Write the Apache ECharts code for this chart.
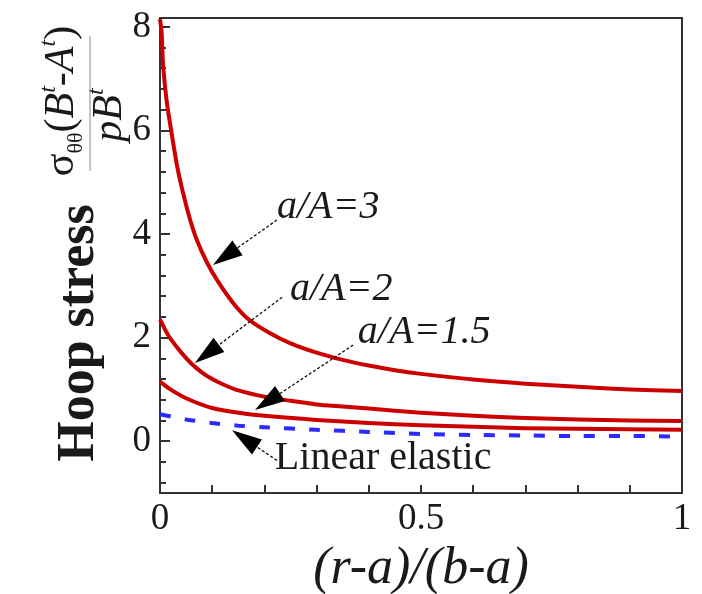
<!DOCTYPE html>
<html>
<head>
<meta charset="utf-8">
<script src="https://cdn.jsdelivr.net/npm/echarts@6/dist/echarts.min.js"></script>
<style>
html,body{margin:0;padding:0;background:#fff;}
#c{width:702px;height:594px;}
</style>
</head>
<body>
<div id="c"></div>
<script>
// ---- data ----
const xA3 = [0, 0.003, 0.006, 0.013, 0.023, 0.033, 0.044, 0.057, 0.07, 0.09, 0.11, 0.14, 0.17, 0.21, 0.25, 0.3, 0.35, 0.4, 0.45, 0.5, 0.6, 0.7, 0.8, 0.9, 1.0];
const yA3 = [8.15, 7.9, 7.25, 6.55, 5.9, 5.3, 4.8, 4.3, 3.9, 3.45, 3.1, 2.67, 2.35, 2.09, 1.89, 1.71, 1.57, 1.46, 1.37, 1.3, 1.19, 1.11, 1.05, 1.0, 0.97];

const xA2 = [0, 0.01, 0.02, 0.04, 0.06, 0.08, 0.1, 0.12, 0.15, 0.2, 0.25, 0.3, 0.35, 0.4, 0.5, 0.6, 0.7, 0.8, 0.9, 1.0];
const yA2 = [2.35, 2.15, 1.98, 1.72, 1.5, 1.33, 1.2, 1.1, 0.98, 0.86, 0.78, 0.71, 0.67, 0.63, 0.55, 0.49, 0.45, 0.42, 0.40, 0.39];

const xA15 = [0, 0.02, 0.05, 0.1, 0.15, 0.2, 0.3, 0.4, 0.5, 0.6, 0.7, 0.8, 0.9, 1.0];
const yA15 = [1.15, 1.0, 0.83, 0.64, 0.55, 0.49, 0.41, 0.35, 0.31, 0.28, 0.25, 0.24, 0.23, 0.22];

const xLin = [0, 0.05, 0.1, 0.15, 0.2, 0.3, 0.4, 0.5, 0.6, 0.7, 0.8, 0.9, 1.0];
const yLin = [0.52, 0.42, 0.35, 0.3, 0.27, 0.22, 0.18, 0.14, 0.12, 0.11, 0.10, 0.10, 0.09];

const xTickValues = [0, 0.1, 0.2, 0.3, 0.4, 0.5, 0.6, 0.7, 0.8, 0.9, 1];
const xLabelValues = [0, 0.5, 1];
const yLabelValues = [0, 2, 4, 6, 8];
const yMinorValues = [-0.8, -0.4, 0.4, 0.8, 1.2, 1.6, 2.4, 2.8, 3.2, 3.6, 4.4, 4.8, 5.2, 5.6, 6.4, 6.8, 7.2, 7.6];

const annLabels = ['a/A=3', 'a/A=2', 'a/A=1.5', 'Linear elastic'];
const annItalic = [true, true, true, false];
const annTip   = [[0.1015, 3.40], [0.067, 1.51], [0.182, 0.60], [0.138, 0.21]];
const annTail  = [[0.224, 4.27], [0.234, 2.78], [0.370, 1.855], [0.224, -0.37]];
const annText  = [[0.224, 4.52], [0.249, 2.92], [0.379, 2.09], [0.22, -0.33]];

// ---- chart ----
const SERIF = "'Liberation Serif','Times New Roman',serif";
const INK = '#1a1a1a';
const RED = '#cc0000';
const BLUE = '#2b2bff';
const pairs = (xs, ys) => xs.map((x, i) => [x, ys[i]]);

const chart = echarts.init(document.getElementById('c'), null, {renderer: 'canvas'});

const redLine = (name, data) => ({
  name, type: 'line', data, showSymbol: false, smooth: 0.25,
  lineStyle: {color: RED, width: 4, join: 'round'}, z: 3, animation: false
});

chart.setOption({
  animation: false,
  backgroundColor: '#fff',
  grid: {left: 160, right: 20, top: 18, bottom: 101, containLabel: false, outerBoundsMode: 'none',
         show: true, borderColor: '#333', borderWidth: 2, backgroundColor: 'transparent'},
  xAxis: {
    type: 'value', min: 0, max: 1,
    axisLine: {show: true, onZero: false, lineStyle: {color: '#333', width: 2}},
    axisTick: {show: true, inside: true, length: 8, customValues: xTickValues, lineStyle: {color: '#333', width: 2}},
    axisLabel: {customValues: xLabelValues, margin: 8, color: INK, fontFamily: SERIF, fontSize: 37,
                formatter: v => String(v)},
    splitLine: {show: false},
    name: '(r-a)/(b-a)', nameLocation: 'middle', nameGap: 38,
    nameTextStyle: {color: INK, fontFamily: SERIF, fontStyle: 'italic', fontSize: 52}
  },
  yAxis: [{
    type: 'value', min: -1, max: 8.17,
    axisLine: {show: true, onZero: false, lineStyle: {color: '#333', width: 2}},
    axisTick: {show: true, inside: true, length: 10, customValues: yLabelValues, lineStyle: {color: '#333', width: 2}},
    axisLabel: {customValues: yLabelValues, margin: 9, color: INK, fontFamily: SERIF, fontSize: 37},
    splitLine: {show: false}
  }, {
    type: 'value', min: -1, max: 8.17, position: 'left',
    axisLine: {show: false, onZero: false},
    axisTick: {show: true, inside: true, length: 6, customValues: yMinorValues, lineStyle: {color: '#333', width: 2}},
    axisLabel: {show: false},
    splitLine: {show: false}
  }],
  series: [
    redLine('a/A=3', pairs(xA3, yA3)),
    redLine('a/A=2', pairs(xA2, yA2)),
    redLine('a/A=1.5', pairs(xA15, yA15)),
    {name: 'Linear elastic', type: 'line', data: pairs(xLin, yLin), showSymbol: false, smooth: 0.3,
     lineStyle: {color: BLUE, width: 4, type: [11, 14]}, z: 2, animation: false}
  ]
});

// ---- annotations (positioned through the axes) ----
const px = p => chart.convertToPixel({xAxisIndex: 0, yAxisIndex: 0}, p);
const graphics = [];
for (let i = 0; i < annLabels.length; i++) {
  const tip = px(annTip[i]);
  const tail = px(annTail[i]);
  const lab = px(annText[i]);
  const dx = tip[0] - tail[0], dy = tip[1] - tail[1];
  const len = Math.hypot(dx, dy);
  const ux = dx / len, uy = dy / len;
  const headL = 30, headW = 9;
  const bx = tip[0] - ux * headL, by = tip[1] - uy * headL;
  graphics.push({type: 'polyline', shape: {points: [tail, [bx, by]]}, z: 10,
    style: {stroke: '#111', lineWidth: 1.3, lineDash: [3, 2], fill: null}});
  graphics.push({type: 'polygon', z: 10, shape: {points: [
      tip, [bx - uy * headW, by + ux * headW], [bx + uy * headW, by - ux * headW]]},
    style: {fill: '#000'}});
  graphics.push({type: 'text', x: lab[0], y: lab[1], z: 11,
    style: {text: annLabels[i], fill: INK,
      font: (annItalic[i] ? 'italic ' : '') + '40px ' + SERIF,
      align: 'left', verticalAlign: 'middle', textAlign: 'left', textVerticalAlign: 'middle'}});
}

// ---- y-axis title ----
graphics.push({type: 'text', x: 80, y: 333, rotation: Math.PI / 2, z: 11,
  style: {text: 'Hoop stress', fill: INK, font: 'bold 52px ' + SERIF,
    align: 'center', verticalAlign: 'middle', textAlign: 'center', textVerticalAlign: 'middle'}});
const richMain = {fontSize: 42, fontFamily: SERIF, lineHeight: 50, verticalAlign: 'middle', fill: INK};
const richIt = Object.assign({}, richMain, {fontStyle: 'italic'});
const richSup = {fontSize: 24, fontFamily: SERIF, fontStyle: 'italic', lineHeight: 24, verticalAlign: 'top', fill: INK};
const richSub = {fontSize: 22, fontFamily: SERIF, lineHeight: 22, verticalAlign: 'bottom', fill: INK};
graphics.push({type: 'text', x: 62, y: 101, rotation: Math.PI / 2, z: 11,
  style: {text: '{m|σ}{sub|θθ}{m|(}{i|B}{sup|t}{m|-}{i|A}{sup|t}{m|)}',
    align: 'center', verticalAlign: 'middle', textAlign: 'center', textVerticalAlign: 'middle',
    rich: {m: richMain, i: richIt, sup: richSup, sub: richSub}}});
graphics.push({type: 'line', z: 11, shape: {x1: 90, y1: 171, x2: 90, y2: 36},
  style: {stroke: '#8a8a8a', lineWidth: 1}});
graphics.push({type: 'text', x: 110, y: 115, rotation: Math.PI / 2, z: 11,
  style: {text: '{i|pB}{sup|t}',
    align: 'center', verticalAlign: 'middle', textAlign: 'center', textVerticalAlign: 'middle',
    rich: {i: richIt, sup: richSup}}});

chart.setOption({graphic: {elements: graphics}});
</script>
</body>
</html>
